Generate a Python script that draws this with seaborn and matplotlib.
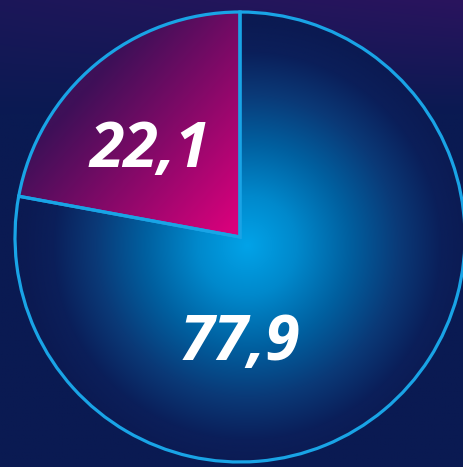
import numpy as np
import matplotlib
matplotlib.use("Agg")
import matplotlib.pyplot as plt
import seaborn as sns
from matplotlib.colors import to_rgb

# Data
labels = ["22,1", "77,9"]
values = [22.1, 77.9]

sns.set_theme(style="white")
plt.rcParams['font.family'] = ['Open Sans', 'DejaVu Sans']

W, H = 463, 467
cx, cy, R = 240, 237, 225  # pixel geometry of the pie

bg = np.array(to_rgb("#0a1a52"))
purple = np.array(to_rgb("#2a145e"))
outline = "#19a4e6"

fig = plt.figure(figsize=(W / 100, H / 100), dpi=100)
fig.patch.set_facecolor(bg)
ax = fig.add_axes([0, 0, 1, 1])
ax.set_facecolor(bg)
x0, x1 = -cx / R, (W - cx) / R
y0, y1 = -(H - cy) / R, cy / R
ax.set_xlim(x0, x1)
ax.set_ylim(y0, y1)
ax.set_aspect("equal")
ax.axis("off")

# background gradient (purple haze at top)
n = 300
gx, gy = np.meshgrid(np.linspace(x0, x1, n), np.linspace(y1, y0, n))
t = np.clip((gy - 0.55) / (y1 - 0.55), 0, 1) * (0.55 + 0.45 * np.clip((gx - x0) / (x1 - x0), 0, 1))
img = bg[None, None, :] * (1 - t[..., None]) + purple[None, None, :] * t[..., None]
ax.imshow(img, extent=(x0, x1, y0, y1), zorder=0, aspect="auto")

wedges, _ = ax.pie(values, startangle=90, counterclock=True, radius=1,
                   center=(0, 0), frame=False,
                   wedgeprops=dict(facecolor="none", edgecolor=outline, linewidth=2.3))
for w in wedges:
    w.set_zorder(4)
ax.set_xlim(x0, x1)
ax.set_ylim(y0, y1)

# blue radial gradient for the big slice
ex = (-1.05, 1.05, -1.05, 1.05)
m = 500
px, py = np.meshgrid(np.linspace(-1.05, 1.05, m), np.linspace(1.05, -1.05, m))
d = np.hypot(px - 0.03, py + 0.04)
stops = [0.0, 0.22, 0.44, 0.67, 0.86, 1.0]
cols = [to_rgb(c) for c in ["#02a3e8", "#0089cc", "#0062a2", "#0a3a78", "#0b1f5a", "#0b1a52"]]
blue = np.stack([np.interp(d, stops, [c[k] for c in cols]) for k in range(3)], axis=-1)
im_b = ax.imshow(blue, extent=ex, zorder=2)
im_b.set_clip_path(wedges[1])

# pink linear gradient for the small slice
c_pink = np.array(to_rgb("#e2007e"))
c_dark = np.array(to_rgb("#3e1058"))
dirx, diry = 0.75, -0.66
proj = px * dirx + py * diry
p0 = -0.95
p1 = 0.0
u = np.clip((proj - p0) / (p1 - p0), 0, 1)[..., None]
pink = c_dark * (1 - u) + c_pink * u
im_p = ax.imshow(pink, extent=ex, zorder=2)
im_p.set_clip_path(wedges[0])

# labels
ax.text(-0.40, 0.385, labels[0], color="white", fontsize=45, fontweight="bold",
        fontstyle="italic", ha="center", va="center", zorder=5)
ax.text(0.0, -0.475, labels[1], color="white", fontsize=45, fontweight="bold",
        fontstyle="italic", ha="center", va="center", zorder=5)

fig.savefig("out.png", dpi=100, facecolor=fig.get_facecolor())
